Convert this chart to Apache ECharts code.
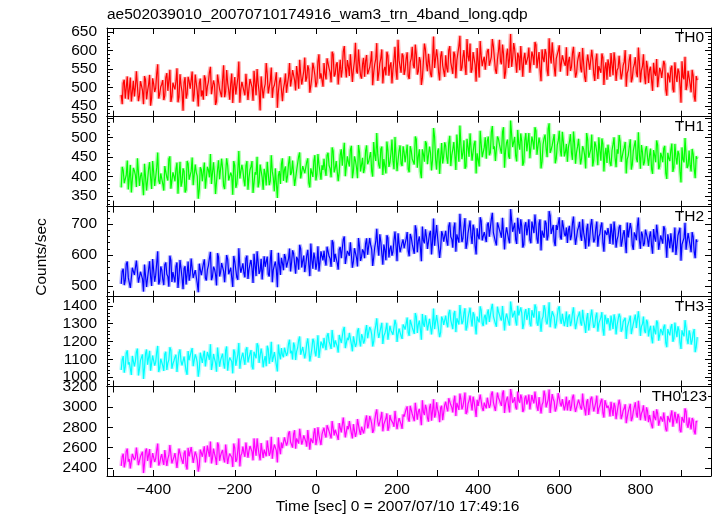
<!DOCTYPE html>
<html><head><meta charset="utf-8">
<script src="https://cdn.jsdelivr.net/npm/echarts@6/dist/echarts.min.js"></script>
<style>html,body{margin:0;padding:0;background:#fff}#c{width:717px;height:516px}</style>
</head><body><div id="c"></div>
<script>
const TITLE = "ae502039010_20070710174916_wam3_trn_4band_long.qdp";
const X_TITLE = "Time [sec] 0 = 2007/07/10 17:49:16";
const Y_TITLE = "Counts/sec";
const NAMES = ["TH0", "TH1", "TH2", "TH3", "TH0123"];
const COLORS = ["#ff0000", "#00ff00", "#0000ff", "#00ffff", "#ff00ff"];
// time bins: set A at T0 + k*DT, set B at T0 + DT/2 + k*DT (sec)
const T0 = -480, DT = 5;

const TH0_A = [
480,512,470,530,495,462,518,501,540,478,505,455,521,490,534,472,510,498,563,483,
509,466,527,491,548,475,503,517,460,536,488,514,470,529,497,543,481,512,449,524,
492,533,477,515,556,486,508,462,539,499,521,474,547,493,511,458,528,485,570,496,
518,479,541,497,526,464,512,550,488,530,471,509,537,482,554,499,521,445,515,532,
497,538,510,566,521,549,492,533,575,508,544,516,560,486,529,552,501,570,524,541,
566,522,583,541,597,530,562,508,575,549,612,527,558,590,515,571,544,603,532,563,
529,588,545,571,506,563,620,538,579,511,556,597,532,568,549,610,521,574,540,586,
548,595,523,579,561,616,535,582,507,571,603,544,590,528,638,556,579,519,598,565,
587,541,612,563,597,525,578,640,553,601,534,584,619,549,592,516,571,626,558,583,
546,604,562,631,579,537,598,571,616,524,589,553,645,577,603,540,585,612,529,594,
561,608,538,585,623,552,596,517,579,604,546,633,565,591,530,577,614,548,586,559,
532,583,555,610,527,571,596,541,565,515,589,548,602,536,574,523,561,592,507,568,
576,529,561,595,518,553,584,537,569,502,548,590,525,563,540,608,514,557,531,572,
512,556,491,539,577,503,545,521,563,478,531,552,496,568,515,542,459,528,583,506,
541,487,532,462,520];
const TH0_B = [
455,521,500,468,527,489,476,544,463,517,492,531,468,508,451,525,488,537,470,502,
520,478,539,486,461,513,495,552,474,506,437,528,483,517,499,462,535,490,511,476,
467,524,503,541,482,519,453,535,496,474,560,489,512,467,538,503,481,526,459,515,
490,537,466,523,501,545,479,512,438,531,497,566,484,518,472,506,541,489,527,463,
512,486,529,503,547,520,558,497,536,512,581,526,549,505,567,533,514,590,538,502,
537,579,552,514,590,536,568,543,527,598,555,574,531,585,549,621,538,563,524,580,
572,536,554,598,541,577,518,565,603,547,533,586,559,511,575,545,629,556,592,534,
579,531,568,610,552,589,544,572,526,619,563,591,537,574,553,603,541,584,560,529,
553,601,568,537,589,574,612,545,583,559,631,571,540,596,562,607,527,586,573,548,
598,559,583,612,548,576,629,563,591,541,605,580,556,620,571,594,547,611,578,562,
582,540,597,561,616,575,548,603,569,592,531,585,622,556,578,600,543,587,565,609,
571,545,593,562,538,585,552,607,529,566,589,547,575,518,592,558,540,581,553,521,
561,593,533,572,547,586,522,560,601,539,575,514,553,582,528,569,546,590,509,555,
548,519,567,532,501,553,526,572,495,540,514,559,487,533,551,508,571,522,493,545,
509,548,476,531];

const TH1_A = [
372,416,385,441,398,359,422,404,447,376,410,352,428,391,437,368,412,399,462,381,
409,364,430,390,452,373,401,419,356,438,386,414,366,433,395,449,379,411,343,424,
388,436,372,417,458,383,406,358,442,397,421,368,447,390,410,353,429,381,466,395,
416,375,440,397,426,358,411,451,385,430,366,407,438,378,455,396,421,345,414,433,
389,426,401,452,410,437,380,421,462,396,431,404,447,372,418,440,390,458,412,429,
446,402,461,420,475,411,440,388,456,428,487,405,437,469,396,452,424,481,413,448,
421,480,438,463,400,455,512,430,471,404,448,490,425,460,441,502,414,466,433,478,
437,482,411,467,449,503,423,470,396,458,491,432,477,416,525,444,466,407,486,452,
478,433,505,455,489,417,470,531,445,493,426,476,511,441,484,408,463,518,450,475,
446,503,461,530,478,436,497,470,515,423,488,452,544,476,502,439,484,511,428,493,
465,512,442,489,527,456,500,421,483,508,450,537,469,495,434,481,518,452,490,463,
438,489,461,516,433,477,502,447,471,421,495,454,508,442,480,429,467,498,413,474,
482,435,467,501,424,459,490,443,475,408,454,496,431,469,446,514,420,463,437,478,
428,472,407,455,493,419,461,437,479,394,447,468,412,484,431,458,385,444,499,422,
467,413,458,396,446];
const TH1_B = [
425,383,404,367,430,392,415,373,448,401,386,433,364,419,397,440,376,423,390,408,
381,427,398,445,369,411,388,436,402,374,421,359,440,392,414,378,431,401,367,418,
412,369,425,398,381,437,355,418,393,446,376,409,428,385,402,440,371,416,395,430,
391,428,366,417,440,384,405,372,431,398,420,377,443,389,414,362,426,403,381,447,
418,385,433,404,441,376,416,452,395,427,409,438,384,421,399,455,406,431,392,417,
417,455,428,398,466,421,445,412,470,433,401,452,426,479,414,441,396,463,430,409,
466,432,451,414,489,440,457,421,477,445,408,468,436,495,419,455,442,480,427,462,
460,419,478,445,431,496,452,413,470,438,485,427,461,442,503,418,472,449,434,488,
449,486,427,470,455,508,438,481,462,420,497,451,474,436,492,460,426,483,447,501,
492,455,514,471,440,503,482,459,527,466,495,446,508,481,453,520,469,490,437,512,
489,447,503,470,518,456,485,439,499,472,523,461,480,509,446,493,468,515,452,484,
476,509,443,487,462,497,431,478,455,512,449,470,426,490,463,501,441,484,457,435,
461,427,483,449,470,507,438,465,489,445,476,418,467,493,437,458,481,429,470,450,
455,419,468,437,481,426,452,472,409,461,440,485,423,450,466,414,475,437,456,428,
430,471,421,452];

const TH2_A = [
507,556,518,579,533,491,561,540,588,510,547,482,568,526,580,500,551,535,612,516,
552,503,576,531,598,513,543,563,494,584,527,557,505,579,537,595,520,554,480,570,
535,586,518,566,610,530,555,502,593,544,570,512,600,538,559,497,579,528,622,543,
573,528,598,553,584,510,567,612,539,588,518,562,595,531,616,552,579,496,570,591,
551,592,565,621,576,605,540,587,633,560,598,569,617,532,583,608,553,628,577,596,
614,566,631,588,648,578,610,553,626,595,660,571,606,641,559,622,592,655,581,618,
590,654,606,633,565,625,685,598,643,569,617,664,592,630,611,676,580,637,603,650,
625,674,596,657,638,696,609,660,580,647,683,620,668,602,718,633,657,591,677,643,
678,630,705,651,688,611,669,733,642,692,620,671,711,636,684,602,661,722,647,674,
642,705,660,736,677,631,699,670,720,618,689,651,748,675,704,636,685,715,624,695,
664,715,638,690,731,653,702,615,684,711,647,742,668,697,629,681,722,650,692,661,
639,694,662,724,633,680,707,646,673,620,701,655,716,641,686,627,668,705,611,677,
687,636,671,708,624,662,697,644,680,606,657,703,631,673,648,721,620,666,638,684,
627,676,604,656,698,617,663,637,684,591,648,670,609,689,630,659,582,645,704,621,
668,609,659,590,642];
const TH2_B = [
548,503,571,527,494,559,536,582,511,546,523,569,497,553,530,587,514,541,505,563,
521,569,538,498,583,545,512,576,529,556,490,564,540,517,589,526,551,509,572,535,
571,526,553,590,519,562,538,606,531,574,548,515,586,543,527,597,553,520,565,541,
542,589,523,571,556,604,532,578,549,521,596,561,538,583,512,567,552,607,536,574,
603,560,588,547,615,572,594,553,620,581,545,599,568,637,556,590,575,547,612,583,
583,627,596,562,640,604,575,619,590,650,571,613,598,635,580,607,563,628,594,611,
637,601,655,618,592,643,627,667,604,634,583,656,620,598,648,629,670,609,639,622,
652,613,668,635,604,681,646,624,692,638,659,617,678,644,630,697,651,622,666,639,
645,693,659,624,705,667,640,683,654,719,637,676,662,698,629,686,651,710,641,669,
698,659,716,672,643,705,681,656,726,667,691,638,712,678,650,720,669,693,633,706,
688,649,708,671,694,637,715,679,656,703,663,727,674,644,697,682,658,712,668,689,
681,648,703,669,637,690,662,715,653,684,628,697,672,651,708,660,693,641,679,665,
666,701,634,678,650,690,627,669,642,705,658,683,617,664,693,647,675,629,682,652,
661,629,684,643,670,614,658,693,638,667,622,676,649,600,663,688,634,655,617,671,
631,674,612,650];

const TH3_A = [
1040,1118,1058,1150,1083,1012,1125,1090,1160,1045,1101,990,1133,1070,1148,1030,1112,1084,1175,1052,
1108,1035,1142,1079,1168,1047,1092,1126,1018,1155,1066,1115,1033,1146,1085,1163,1057,1110,1002,1137,
1080,1148,1054,1120,1185,1071,1103,1030,1158,1094,1131,1048,1172,1086,1112,1021,1140,1066,1192,1093,
1137,1069,1168,1108,1152,1043,1124,1190,1080,1160,1055,1118,1176,1075,1198,1110,1145,1032,1130,1163,
1112,1172,1135,1210,1148,1194,1096,1165,1228,1120,1180,1139,1217,1088,1158,1201,1117,1235,1152,1186,
1220,1152,1247,1181,1265,1168,1212,1138,1240,1193,1282,1160,1208,1258,1145,1232,1189,1275,1172,1226,
1205,1292,1228,1268,1172,1258,1330,1220,1280,1186,1245,1305,1213,1262,1238,1322,1198,1273,1230,1296,
1268,1335,1232,1312,1287,1360,1248,1318,1210,1298,1347,1262,1328,1240,1385,1275,1309,1225,1340,1294,
1345,1280,1378,1310,1357,1253,1330,1405,1298,1362,1262,1333,1390,1285,1350,1240,1320,1398,1303,1338,
1296,1380,1320,1412,1341,1283,1369,1330,1400,1262,1357,1308,1425,1336,1372,1290,1347,1392,1270,1365,
1322,1388,1285,1352,1408,1305,1370,1255,1340,1381,1297,1420,1328,1363,1274,1345,1398,1300,1356,1318,
1282,1352,1310,1392,1270,1333,1368,1290,1323,1248,1360,1299,1380,1277,1341,1256,1312,1365,1233,1328,
1331,1262,1307,1352,1240,1290,1338,1268,1316,1215,1289,1345,1250,1305,1276,1370,1232,1298,1260,1322,
1228,1288,1190,1262,1318,1205,1270,1236,1295,1168,1250,1280,1199,1306,1225,1264,1158,1242,1320,1210,
1262,1183,1250,1140,1225];
const TH3_B = [
1098,1025,1136,1071,1047,1119,1060,1142,1009,1094,1127,1050,1155,1078,1036,1121,1065,1140,1028,1103,
1063,1130,1040,1097,1151,1074,1112,1029,1138,1088,1055,1120,1013,1095,1145,1061,1128,1082,1044,1109,
1122,1060,1141,1097,1040,1130,1081,1166,1058,1115,1073,1150,1036,1109,1088,1155,1064,1128,1047,1118,
1098,1154,1083,1131,1060,1142,1106,1175,1072,1127,1094,1061,1158,1113,1085,1140,1069,1183,1100,1124,
1165,1120,1187,1134,1099,1175,1145,1207,1126,1169,1105,1190,1160,1122,1215,1141,1177,1108,1199,1163,
1178,1230,1199,1158,1254,1206,1173,1237,1192,1265,1163,1221,1248,1184,1229,1170,1260,1203,1241,1189,
1262,1219,1281,1240,1199,1290,1254,1225,1305,1233,1270,1210,1288,1251,1227,1296,1242,1269,1215,1283,
1301,1250,1322,1279,1243,1340,1296,1268,1355,1283,1314,1257,1330,1293,1270,1349,1305,1252,1326,1288,
1302,1358,1319,1270,1372,1331,1296,1349,1312,1387,1283,1342,1325,1365,1292,1340,1308,1376,1287,1350,
1359,1310,1385,1343,1301,1396,1350,1318,1407,1332,1363,1290,1378,1345,1313,1401,1337,1360,1298,1382,
1351,1300,1376,1335,1392,1289,1361,1324,1404,1313,1347,1280,1370,1338,1297,1385,1322,1356,1287,1369,
1338,1287,1359,1322,1271,1349,1305,1378,1294,1330,1262,1345,1319,1290,1363,1302,1336,1268,1350,1298,
1304,1346,1270,1323,1292,1356,1255,1312,1333,1279,1320,1242,1301,1351,1266,1315,1285,1340,1248,1310,
1266,1220,1289,1241,1305,1213,1257,1282,1192,1270,1235,1298,1215,1258,1285,1197,1263,1230,1277,1186,
1241,1205,1270,1168];

const TH0123_A = [
2420,2540,2455,2590,2488,2380,2552,2500,2610,2435,2518,2350,2570,2470,2585,2410,2530,2492,2640,2448,
2535,2430,2590,2490,2625,2445,2508,2560,2395,2602,2470,2545,2420,2598,2500,2615,2455,2528,2365,2580,
2510,2612,2470,2560,2660,2495,2540,2430,2625,2520,2575,2455,2645,2505,2550,2410,2598,2480,2690,2522,
2610,2510,2655,2568,2632,2475,2590,2690,2530,2645,2498,2585,2670,2520,2705,2575,2628,2455,2600,2650,
2610,2700,2650,2760,2668,2735,2590,2690,2785,2630,2720,2660,2772,2580,2680,2745,2625,2800,2672,2730,
2795,2700,2835,2742,2860,2720,2782,2675,2825,2758,2885,2712,2780,2850,2690,2815,2750,2872,2725,2800,
2790,2915,2825,2880,2745,2870,2975,2810,2895,2760,2848,2935,2800,2875,2840,2960,2780,2890,2828,2925,
2905,3005,2855,2970,2935,3040,2875,2980,2820,2950,3020,2890,2995,2865,3075,2925,2975,2850,3010,2945,
3050,2955,3095,2995,3060,2910,3025,3130,2975,3070,2930,3030,3110,2965,3055,2900,3010,3120,2990,3040,
2985,3105,3020,3150,3050,2965,3090,3035,3135,2940,3075,3005,3175,3040,3095,2975,3060,3120,2950,3085,
3025,3120,2970,3065,3150,3000,3095,2935,3045,3110,2990,3170,3030,3080,2955,3050,3130,3005,3070,3015,
2965,3065,3005,3120,2950,3035,3085,2975,3020,2915,3075,2990,3100,2955,3045,2930,3010,3080,2895,3030,
3010,2905,2975,3040,2880,2950,3020,2915,2985,2840,2950,3030,2890,2970,2930,3060,2870,2960,2910,2995,
2850,2935,2790,2895,2975,2815,2905,2855,2940,2760,2880,2920,2805,2950,2840,2900,2750,2870,2985,2825,
2895,2780,2870,2730,2850];
const TH0123_B = [
2510,2405,2565,2462,2395,2538,2480,2600,2428,2512,2560,2445,2590,2470,2402,2545,2460,2575,2425,2505,
2470,2575,2420,2525,2610,2460,2545,2400,2590,2505,2440,2570,2385,2515,2605,2450,2560,2480,2420,2550,
2565,2455,2620,2510,2445,2590,2500,2650,2470,2555,2490,2630,2440,2540,2505,2640,2460,2575,2415,2545,
2545,2650,2500,2615,2560,2690,2520,2600,2475,2640,2580,2515,2675,2550,2490,2630,2570,2700,2535,2595,
2700,2620,2740,2655,2600,2770,2690,2640,2795,2665,2720,2610,2755,2690,2645,2790,2675,2720,2625,2765,
2725,2820,2760,2690,2870,2775,2715,2840,2750,2895,2700,2810,2860,2740,2830,2705,2880,2765,2805,2740,
2875,2790,2910,2835,2770,2935,2855,2800,2950,2830,2885,2765,2920,2860,2805,2945,2845,2890,2785,2905,
2980,2880,3010,2930,2860,3050,2955,2905,3065,2920,2985,2855,3030,2960,2895,3045,2940,2990,2870,3020,
2990,3085,3020,2945,3110,3040,2970,3075,3005,3140,2950,3060,3035,3100,2980,3070,3010,3125,2960,3050,
3090,2990,3125,3045,2960,3140,3065,3010,3160,3030,3100,2945,3120,3060,2995,3150,3040,3085,2970,3110,
3060,2975,3115,3035,3140,2960,3090,3020,3160,2995,3070,2940,3125,3050,2985,3135,3030,3075,2965,3100,
3040,2960,3095,3010,2935,3070,2995,3130,2980,3050,2920,3080,3020,2970,3110,2985,3055,2940,3065,2990,
2985,3050,2910,3005,2945,3070,2880,2965,3025,2900,2990,2860,2955,3045,2895,2980,2935,3015,2865,2960,
2920,2820,2960,2870,2935,2800,2890,2945,2780,2910,2850,2965,2815,2880,2930,2770,2900,2845,2955,2795,
2830,2890,2760,2860];

const SERIES_A = [TH0_A, TH1_A, TH2_A, TH3_A, TH0123_A];
const SERIES_B = [TH0_B, TH1_B, TH2_B, TH3_B, TH0123_B];

// axis ranges and tick labels
const X_MIN = -515, X_MAX = 974;
const X_TICKS = [-500,-400,-300,-200,-100,0,100,200,300,400,500,600,700,800,900];
const X_LABELS = [-400,-200,0,200,400,600,800];
const Y_MIN = [421, 322.5, 465.5, 947, 2321];
const Y_MAX = [661, 554, 756, 1452, 3200];
const Y_LABELS = [
  [450,500,550,600,650],
  [350,400,450,500,550],
  [500,600,700],
  [1000,1100,1200,1300,1400],
  [2400,2600,2800,3000,3200]
];
const Y_MINOR_STEP = [10, 10, 20, 20, 100];

// layout
const GRID_LEFT = 107, GRID_W = 604;
const GRID_TOP = [28, 116.7, 206.7, 296.7, 386.5];
const GRID_H = [88.7, 90, 90, 89.8, 89.5];
const FONT = '"Liberation Sans", Arial, Helvetica, sans-serif';
const FS = 15.5;

function minorTicks(i) {
  const st = Y_MINOR_STEP[i], out = [];
  for (let v = Math.ceil(Y_MIN[i] / st) * st; v <= Y_MAX[i] + 1e-9; v += st) {
    if (Y_LABELS[i].indexOf(v) < 0) out.push(v);
  }
  return out;
}

const grids = [], xAxes = [], yAxes = [], series = [];
const lineCol = '#000';
for (let i = 0; i < 5; i++) {
  grids.push({ left: GRID_LEFT, top: GRID_TOP[i], width: GRID_W, height: GRID_H[i], containLabel: false });
  const isLast = i === 4;
  const xBase = {
    type: 'value', gridIndex: i, min: X_MIN, max: X_MAX,
    axisLine: { show: true, onZero: false, lineStyle: { color: lineCol, width: 1 } },
    axisTick: { show: true, inside: true, length: 6, customValues: X_TICKS, lineStyle: { color: lineCol } },
    splitLine: { show: false }, minorTick: { show: false }
  };
  xAxes.push(Object.assign({}, xBase, {
    position: 'bottom',
    axisLabel: isLast ? {
      show: true, customValues: X_LABELS, margin: 6, color: '#000', fontSize: FS, fontFamily: FONT,
      formatter: v => String(v).replace('-', '\u2212')
    } : { show: false }
  }));
  xAxes.push(Object.assign({}, xBase, { position: 'top', axisLabel: { show: false } }));

  const yBase = {
    type: 'value', gridIndex: i, min: Y_MIN[i], max: Y_MAX[i],
    splitLine: { show: false }, minorTick: { show: false }
  };
  const minors = minorTicks(i);
  yAxes.push(Object.assign({}, yBase, {
    position: 'left',
    axisLine: { show: true, onZero: false, lineStyle: { color: lineCol, width: 1 } },
    axisTick: { show: true, inside: true, length: 6, customValues: Y_LABELS[i], lineStyle: { color: lineCol } },
    axisLabel: { show: true, customValues: Y_LABELS[i], margin: 10, color: '#000', fontSize: FS, fontFamily: FONT,
      formatter: v => String(v) }
  }));
  yAxes.push(Object.assign({}, yBase, {
    position: 'left',
    axisLine: { show: false, onZero: false },
    axisTick: { show: true, inside: true, length: 3, customValues: minors, lineStyle: { color: lineCol } },
    axisLabel: { show: false }
  }));
  yAxes.push(Object.assign({}, yBase, {
    position: 'right',
    axisLine: { show: true, onZero: false, lineStyle: { color: lineCol, width: 1 } },
    axisTick: { show: true, inside: true, length: 6, customValues: Y_LABELS[i], lineStyle: { color: lineCol } },
    axisLabel: { show: false }
  }));
  yAxes.push(Object.assign({}, yBase, {
    position: 'right',
    axisLine: { show: false, onZero: false },
    axisTick: { show: true, inside: true, length: 3, customValues: minors, lineStyle: { color: lineCol } },
    axisLabel: { show: false }
  }));

  const pts = SERIES_A[i].map((v, k) => [T0 + k * DT, v])
    .concat(SERIES_B[i].map((v, k) => [T0 + DT / 2 + k * DT, v]))
    .sort((p, q) => p[0] - q[0]);
  // soft halo underneath (same data), then the crisp line on top
  series.push({
    name: NAMES[i], type: 'line', xAxisIndex: 2 * i, yAxisIndex: 4 * i,
    data: pts, showSymbol: false, symbol: 'none', clip: true, silent: true,
    lineStyle: { color: COLORS[i], width: 4, opacity: 0.3 }, itemStyle: { color: COLORS[i] },
    animation: false, z: 2
  });
  series.push({
    name: NAMES[i], type: 'line', xAxisIndex: 2 * i, yAxisIndex: 4 * i,
    data: pts, showSymbol: false, symbol: 'none', clip: true, silent: true,
    lineStyle: { color: COLORS[i], width: 1.2 }, itemStyle: { color: COLORS[i] },
    animation: false, z: 3
  });
}

const labelRight = [704, 704, 704, 704, 707];
const labelY = [37.5, 127, 217, 307, 396.5];
const graphics = [
  { type: 'text', x: 107, y: 15, style: { text: TITLE, font: FS + 'px ' + FONT, fill: '#000', textAlign: 'left', align: 'left', textVerticalAlign: 'middle', verticalAlign: 'middle' } },
  { type: 'text', x: 397.5, y: 506.5, style: { text: X_TITLE, font: FS + 'px ' + FONT, fill: '#000', textAlign: 'center', align: 'center', textVerticalAlign: 'middle', verticalAlign: 'middle' } },
  { type: 'text', x: 42, y: 257, rotation: Math.PI / 2, style: { text: Y_TITLE, font: FS + 'px ' + FONT, fill: '#000', textAlign: 'center', align: 'center', textVerticalAlign: 'middle', verticalAlign: 'middle' } }
];
for (let i = 0; i < 5; i++) {
  graphics.push({ type: 'text', x: labelRight[i], y: labelY[i], z: 100, style: { text: NAMES[i], font: FS + 'px ' + FONT, fill: '#000', textAlign: 'right', align: 'right', textVerticalAlign: 'middle', verticalAlign: 'middle' } });
}

const chart = echarts.init(document.getElementById('c'), null, { renderer: 'canvas' });
chart.setOption({
  backgroundColor: '#fff',
  animation: false,
  grid: grids, xAxis: xAxes, yAxis: yAxes, series: series,
  graphic: graphics
});
</script>
</body></html>
